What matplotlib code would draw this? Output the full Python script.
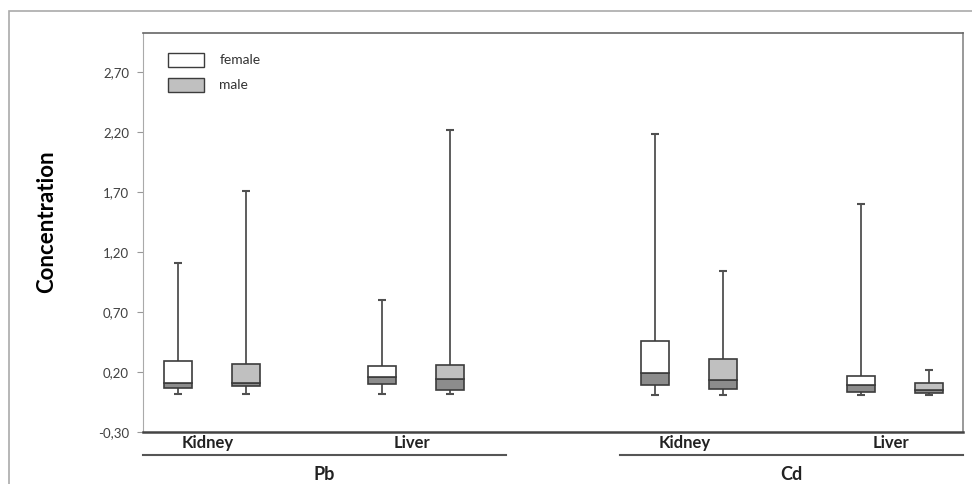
import numpy as np
import matplotlib.pyplot as plt
from matplotlib.patches import Rectangle
from matplotlib.transforms import blended_transform_factory

# data: female / male per metal + organ
groups = ['Kidney', 'Liver', 'Kidney', 'Liver']
metals = ['Pb', 'Cd']
sexes = ['female', 'male']

f_min = [0.02, 0.017, 0.005, 0.005]
f_q1 = [0.07, 0.10, 0.089, 0.033]
f_med = [0.111, 0.161, 0.189, 0.089]
f_q3 = [0.294, 0.247, 0.458, 0.167]
f_max = [1.11, 0.80, 2.18, 1.60]

m_min = [0.02, 0.017, 0.005, 0.005]
m_q1 = [0.08, 0.05, 0.058, 0.025]
m_med = [0.108, 0.142, 0.131, 0.05]
m_q3 = [0.267, 0.256, 0.306, 0.111]
m_max = [1.71, 2.22, 1.04, 0.217]

yticks = [-0.30, 0.20, 0.70, 1.20, 1.70, 2.20, 2.70]

plt.rcParams['font.family'] = ['Lato', 'DejaVu Sans']

pos = np.array([0, 1, 2.34, 3.35])
off = 0.167
w = 0.137
fill = {'female': 'white', 'male': '#c0c0c0'}
dark = '#8c8c8c'
edge = '#3c3c3c'

fig = plt.figure(figsize=(9.72, 4.84), dpi=100)
ax = fig.add_axes([0.1471, 0.1074, 0.8436, 0.8244])

def draw_boxes(x, lo, q1, med, q3, hi, color):
    ax.vlines(x, lo, q1, color='#505050', lw=1.3, zorder=1)
    ax.vlines(x, q3, hi, color='#505050', lw=1.3, zorder=1)
    ax.hlines(lo, x - 0.02, x + 0.02, color='#505050', lw=1.5, zorder=1)
    ax.hlines(hi, x - 0.02, x + 0.02, color='#505050', lw=1.5, zorder=1)
    ax.bar(x, np.array(med) - np.array(q1), bottom=q1, width=w,
           color=dark, edgecolor=edge, lw=1.2, zorder=2)
    ax.bar(x, np.array(q3) - np.array(med), bottom=med, width=w,
           color=color, edgecolor=edge, lw=1.2, zorder=2)

draw_boxes(pos - off, f_min, f_q1, f_med, f_q3, f_max, fill['female'])
draw_boxes(pos + off, m_min, m_q1, m_med, m_q3, m_max, fill['male'])

ax.set_xlim(-0.338, 3.683)
ax.set_ylim(-0.30, 3.025)
ax.set_yticks(yticks)
ax.yaxis.set_major_formatter(plt.FuncFormatter(lambda v, p: ('%.2f' % v).replace('.', ',')))
ax.set_xticks([])
ax.tick_params(axis='y', length=4, color='#999999', labelsize=9.5, labelcolor='#404040', pad=6)
ax.spines['left'].set_color('#aaaaaa')
ax.spines['top'].set_color('#666666')
ax.spines['right'].set_color('#888888')
ax.spines['bottom'].set_color('#444444')
ax.spines['bottom'].set_linewidth(1.8)
ax.spines['top'].set_linewidth(1.2)
ax.spines['right'].set_linewidth(1.2)
ax.set_ylabel('Concentration', fontsize=16, fontweight='bold', va='center')
ax.yaxis.set_label_coords(-0.118, 0.526)

# legend
for i, s in enumerate(sexes):
    ax.add_patch(Rectangle((0.030, 0.915 - i * 0.063), 0.045, 0.035, transform=ax.transAxes,
                           facecolor=fill[s], edgecolor=edge, lw=1.0))
    ax.text(0.093, 0.932 - i * 0.063, s, transform=ax.transAxes, fontsize=10,
            color='#333333', va='center')

# category labels below the axis
tr = blended_transform_factory(ax.transData, fig.transFigure)
for x, g in zip(pos, groups):
    ax.text(x - 0.02, 1 - 443 / 484, g, transform=tr, ha='center', va='center',
            fontsize=12, fontweight='bold', color='#222222')
for (x0, x1), m in zip([(-0.338, 1.44), (2.0, 3.683)], metals):
    ax.plot([x0, x1], [1 - 455 / 484] * 2, transform=tr, color='#555555', lw=1.5,
            clip_on=False)
    ax.text((x0 + x1) / 2, 1 - 474 / 484, m, transform=tr, ha='center', va='center',
            fontsize=13, fontweight='bold', color='#222222')

# outer frame
fig.add_artist(Rectangle((9 / 972, -0.1), 1.2, (473 / 484) + 0.1, transform=fig.transFigure,
                         fill=False, edgecolor='#aaaaaa', lw=1.2))

fig.savefig('out.png', dpi=100)
